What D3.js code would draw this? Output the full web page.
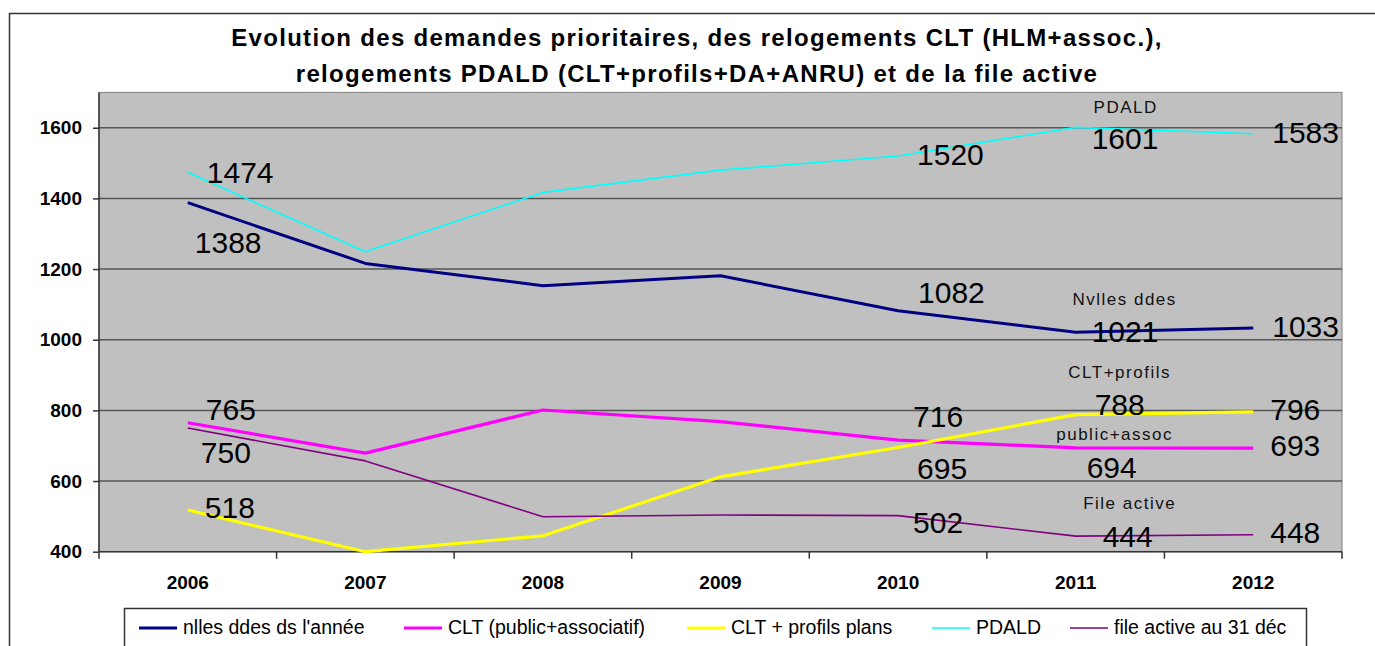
<!DOCTYPE html>
<html>
<head>
<meta charset="utf-8">
<script src="https://cdn.jsdelivr.net/npm/d3@7"></script>
<style>
  body { margin: 0; background: #fff; }
  svg { display: block; font-family: "Liberation Sans", Arial, sans-serif; }
</style>
</head>
<body>
<svg width="1375" height="646"></svg>
<script>
// données
const years = [2006, 2007, 2008, 2009, 2010, 2011, 2012];
const nllesDdes = [1388, 1216, 1153, 1181, 1082, 1021, 1033];
const cltPublicAssoc = [765, 679, 801, 768, 716, 694, 693];
const cltProfils = [518, 400, 445, 612, 695, 788, 796];
const pdald = [1474, 1249, 1417, 1480, 1520, 1601, 1583];
const fileActive = [750, 657, 499, 504, 502, 444, 448];
const yTicks = [400, 600, 800, 1000, 1200, 1400, 1600];
const labelledYears = [2006, 2010, 2011, 2012];

const titleLines = [
  "Evolution des demandes prioritaires, des relogements CLT (HLM+assoc.),",
  "relogements PDALD (CLT+profils+DA+ANRU) et de la file active"
];

// séries : nom de légende, couleur, épaisseur
const series = [
  { name: "nlles ddes ds l'année", values: nllesDdes, color: "#000080", width: 3, tag: "Nvlles ddes" },
  { name: "CLT (public+associatif)", values: cltPublicAssoc, color: "#ff00ff", width: 3.2, tag: "public+assoc" },
  { name: "CLT + profils plans", values: cltProfils, color: "#ffff00", width: 3.2, tag: "CLT+profils" },
  { name: "PDALD", values: pdald, color: "#00ffff", width: 1.6, tag: "PDALD" },
  { name: "file active au 31 déc", values: fileActive, color: "#800080", width: 1.6, tag: "File active" }
];

// décalages des étiquettes de valeurs (par série, par année étiquetée)
const labelOffsets = [
  [[7, 50], [20, -8], [16, 10], [19, 9]],
  [[18, -3], [15, -13], [11, 30], [17, 8]],
  [[17, 8], [19, 32], [19, 0], [17, 8]],
  [[19, 11], [19, 9], [16, 22], [19, 9]],
  [[13, 35], [15, 17], [27, 11], [17, 8]]
];
// décalage des noms de série placés près de 2011
const tagOffsets = [[49, -27], [39, -8], [44, -37], [50, -14], [54, -27]];

const svg = d3.select("svg");

const area = { left: 99, right: 1342, top: 92.4, bottom: 551.7 };

// cadre extérieur
svg.append("rect")
  .attr("x", 9.5).attr("y", 13.5)
  .attr("width", 1400).attr("height", 700)
  .attr("fill", "none").attr("stroke", "#333").attr("stroke-width", 1.5);

// titre
svg.append("g").selectAll("text")
  .data(titleLines)
  .join("text")
  .attr("x", 697)
  .attr("y", (d, i) => 46 + i * 36)
  .attr("text-anchor", "middle")
  .style("font-size", "24px")
  .style("letter-spacing", "1.3px")
  .style("font-weight", "bold")
  .text(d => d);

const scX = d3.scaleBand().domain(years).range([area.left, area.right]);
const scY = d3.scaleLinear().domain([400, 1700]).range([area.bottom, area.top]);

// fond gris
svg.append("rect")
  .attr("x", area.left).attr("y", area.top)
  .attr("width", area.right - area.left).attr("height", area.bottom - area.top)
  .attr("fill", "#c0c0c0").attr("stroke", "#808080").attr("stroke-width", 1);

// grille
svg.append("g").selectAll("line")
  .data(yTicks.slice(1))
  .join("line")
  .attr("x1", area.left).attr("x2", area.right)
  .attr("y1", d => scY(d)).attr("y2", d => scY(d))
  .attr("stroke", "#555").attr("stroke-width", 1.5);

// axe Y
const axisY = d3.axisLeft(scY).tickValues(yTicks).tickFormat(d3.format("d")).tickSize(6).tickPadding(11);
const gY = svg.append("g")
  .attr("transform", `translate(${area.left},0)`)
  .call(axisY);
gY.select(".domain").attr("d", `M0,${area.top}V${area.bottom}`).attr("stroke", "#333").attr("stroke-width", 1.5);
gY.selectAll(".tick line").attr("stroke", "#333").attr("stroke-width", 1.5);
gY.selectAll("text")
  .style("font-family", "'Liberation Sans', Arial, sans-serif")
  .style("font-size", "19px").style("font-weight", "bold").attr("fill", "#000");

// axe X : repères aux limites des catégories
const axisX = d3.axisBottom(scX).tickSize(0).tickPadding(24);
const gX = svg.append("g")
  .attr("transform", `translate(0,${area.bottom})`)
  .call(axisX);
gX.select(".domain").attr("d", `M${area.left},0H${area.right}`).attr("stroke", "#333").attr("stroke-width", 1.5);
gX.selectAll("text")
  .style("font-family", "'Liberation Sans', Arial, sans-serif")
  .style("font-size", "19px").style("font-weight", "bold").attr("fill", "#000");
gX.append("g").selectAll("line")
  .data(years.map(y => scX(y)).concat([area.right]))
  .join("line")
  .attr("x1", d => d).attr("x2", d => d)
  .attr("y1", 0).attr("y2", 7)
  .attr("stroke", "#333").attr("stroke-width", 1.5);

// courbes
const line = d3.line()
  .x((d, i) => scX(years[i]) + scX.bandwidth() / 2)
  .y(d => scY(d));

svg.append("g").selectAll("path")
  .data(series)
  .join("path")
  .attr("d", d => line(d.values))
  .attr("fill", "none")
  .attr("stroke", d => d.color)
  .attr("stroke-width", d => d.width)
  .attr("stroke-linejoin", "round");

// étiquettes de valeurs
const gLab = svg.append("g");
series.forEach((s, si) => {
  labelledYears.forEach((yr, k) => {
    const i = years.indexOf(yr);
    const [dx, dy] = labelOffsets[si][k];
    gLab.append("text")
      .attr("x", scX(yr) + scX.bandwidth() / 2 + dx)
      .attr("y", scY(s.values[i]) + dy)
      .style("font-size", "30px")
      .attr("fill", "#000")
      .text(s.values[i]);
  });
  // nom de la série près de 2011
  const i11 = years.indexOf(2011);
  gLab.append("text")
    .attr("x", scX(2011) + scX.bandwidth() / 2 + tagOffsets[si][0])
    .attr("y", scY(s.values[i11]) + tagOffsets[si][1])
    .attr("text-anchor", "middle")
    .style("font-size", "17px")
    .style("letter-spacing", "1.5px")
    .attr("fill", "#111")
    .text(s.tag);
});

// légende
const legendX = [139, 404, 687, 932, 1070];
const gLeg = svg.append("g");
gLeg.append("rect")
  .attr("x", 124.5).attr("y", 608.5)
  .attr("width", 1182).attr("height", 60)
  .attr("fill", "#fff").attr("stroke", "#333").attr("stroke-width", 1.5);
series.forEach((s, i) => {
  gLeg.append("line")
    .attr("x1", legendX[i]).attr("x2", legendX[i] + 38)
    .attr("y1", 628).attr("y2", 628)
    .attr("stroke", s.color).attr("stroke-width", s.width);
  gLeg.append("text")
    .attr("x", legendX[i] + 44)
    .attr("y", 634)
    .style("font-size", "19.5px")
    .attr("fill", "#000")
    .text(s.name);
});
</script>
</body>
</html>
